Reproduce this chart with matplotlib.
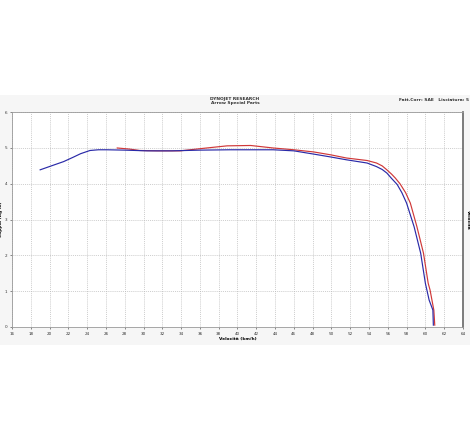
import matplotlib
matplotlib.use("Agg")
import matplotlib.pyplot as plt
from matplotlib.patches import Rectangle

# Velocità (km/h) e coppia (Kg-m)
blue_v = [19.0, 20.3, 21.5, 22.5, 23.3, 24.3, 25.2, 26.1, 28.0, 30.4, 33.0,
          36.0, 39.2, 41.5, 43.8, 46.0, 48.1, 49.9, 51.6, 53.8, 54.8, 55.4,
          55.9, 56.4, 57.0, 57.5, 58.0, 58.8, 59.5, 60.0, 60.4, 60.8, 60.85]
blue_t = [4.39, 4.51, 4.62, 4.74, 4.84, 4.93, 4.95, 4.95, 4.94, 4.92, 4.92,
          4.94, 4.95, 4.95, 4.95, 4.92, 4.83, 4.75, 4.67, 4.58, 4.48, 4.40,
          4.30, 4.15, 3.98, 3.75, 3.46, 2.80, 2.06, 1.22, 0.75, 0.47, 0.05]

red_v = [27.2, 28.5, 29.6, 31.5, 33.9, 36.0, 38.9, 41.4, 43.8, 46.0, 48.1,
         49.9, 51.6, 53.8, 54.8, 55.4, 55.9, 56.4, 56.8, 57.3, 57.9, 58.4,
         59.1, 59.8, 60.3, 60.5, 60.9, 61.0]
red_t = [5.00, 4.97, 4.93, 4.92, 4.92, 4.98, 5.06, 5.07, 5.00, 4.95, 4.89,
         4.81, 4.72, 4.65, 4.58, 4.50, 4.39, 4.27, 4.16, 4.00, 3.75, 3.46,
         2.80, 2.06, 1.22, 1.03, 0.47, 0.05]

x_ticks = list(range(16, 65, 2))
y_ticks = list(range(0, 7))

fig = plt.figure(figsize=(4.7, 4.4), dpi=100)
# fascia grigia chiara dietro al grafico
fig.patches.append(Rectangle((0, 1 - 345 / 440), 1, 250 / 440,
                             transform=fig.transFigure, facecolor="#f6f6f6",
                             edgecolor="none", zorder=-10))

ax = fig.add_axes([0.0255, 0.257, 0.9595, 0.488])
ax.set_zorder(1)
ax.set_facecolor("white")
ax.set_xlim(16, 64)
ax.set_ylim(0, 6)
ax.set_xticks(x_ticks)
ax.set_yticks(y_ticks)
ax.tick_params(labelsize=3, length=1.5, width=0.4, pad=2, colors="#333333")
ax.grid(True, linestyle=(0, (1.5, 1.5)), color="#bbbbbb", linewidth=0.5)
for side in ["left", "bottom", "top"]:
    ax.spines[side].set_color("#999999")
    ax.spines[side].set_linewidth(0.6)
ax.spines["right"].set_color("#666666")
ax.spines["right"].set_linewidth(1.2)

ax.plot(red_v, red_t, color="#d03838", linewidth=0.85)
ax.plot(blue_v, blue_t, color="#2a2aa8", linewidth=0.85)

ax.set_xlabel("Velocità (km/h)", fontsize=3.2, fontweight="bold", labelpad=1)
ax.set_ylabel("Coppia (Kg-m)", fontsize=3.2, fontweight="bold", labelpad=1)
ax.text(1.006, 0.5, "Velocità", transform=ax.transAxes, rotation=270,
        fontsize=3.2, fontweight="bold", ha="left", va="center")

fig.text(0.5, 1 - 101 / 440, "DYNOJET RESEARCH\nArrow Special Parts",
         fontsize=3.2, fontweight="bold", ha="center", va="center",
         color="#333333", linespacing=1.2)
fig.text(0.998, 1 - 100 / 440, "Fatt.Corr: SAE   Lisciatura: 5",
         fontsize=3.2, fontweight="bold", ha="right", va="center",
         color="#333333")

fig.savefig("out.png", dpi=100)
